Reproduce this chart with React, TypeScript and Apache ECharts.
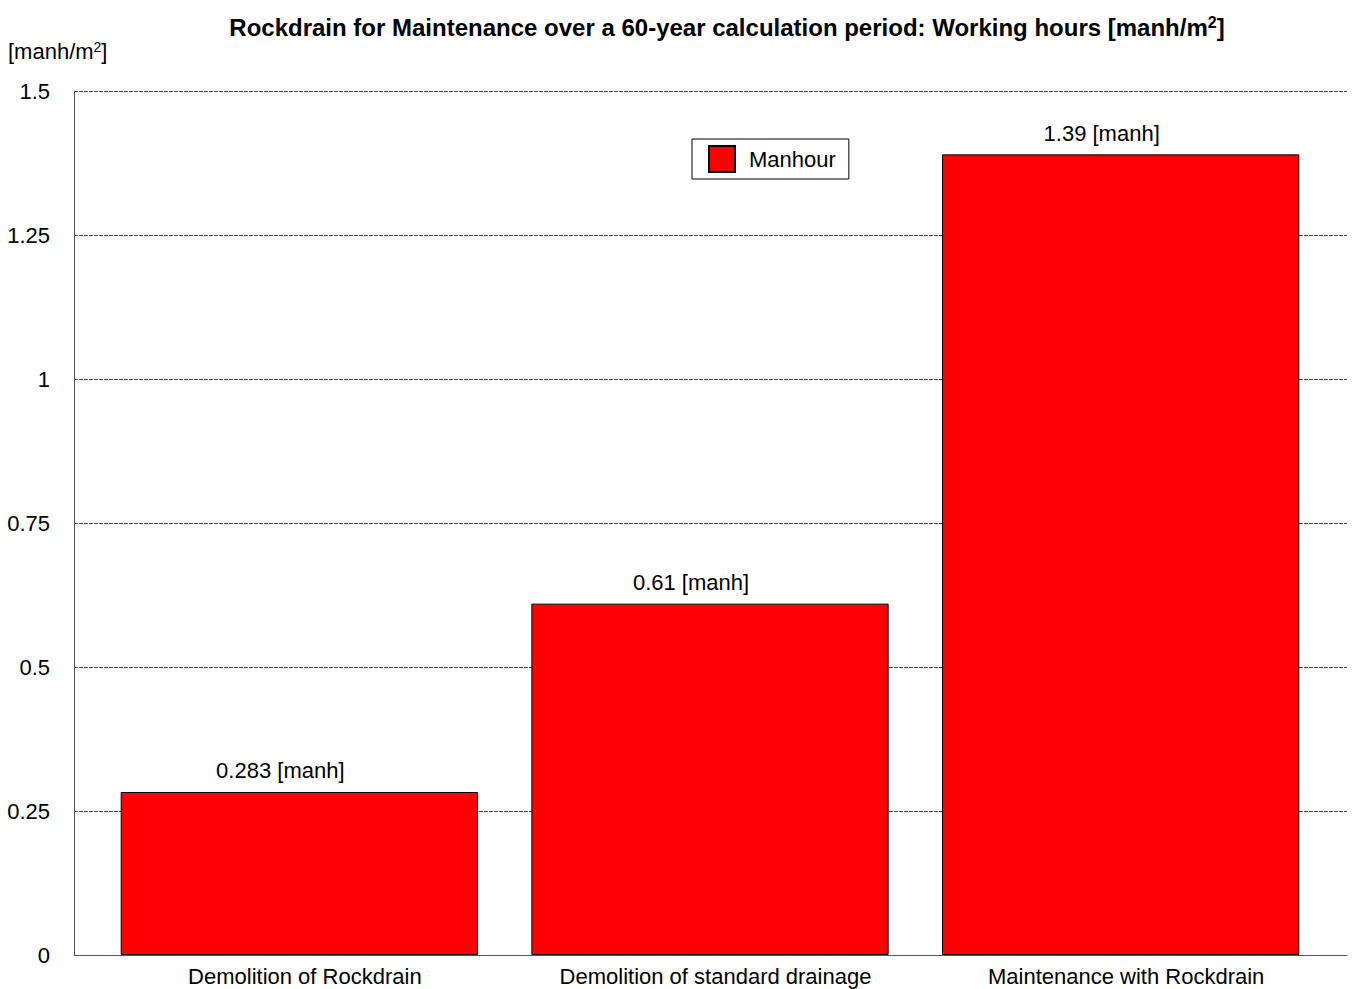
import React, { useEffect, useRef } from "react";
import * as echarts from "echarts";

const categories = [
  "Demolition of Rockdrain",
  "Demolition of standard drainage",
  "Maintenance with Rockdrain",
];
const manhourValues = [0.283, 0.61, 1.39];
const seriesName = "Manhour";
const yMin = 0;
const yMax = 1.5;
const yStep = 0.25;

export default function App() {
  const ref = useRef<HTMLDivElement>(null);
  useEffect(() => {
    document.body.style.margin = "0";
    const chart = echarts.init(ref.current!, null, { renderer: "svg" });
    const font = "Arial, 'Liberation Sans', sans-serif";
    chart.setOption({
      animation: false,
      backgroundColor: "#ffffff",
      textStyle: { fontFamily: font },
      title: {
        text: "{a|Rockdrain for Maintenance over a 60-year calculation period: Working hours [manh/m}{s|2}{a|]}",
        left: 722,
        top: 9,
        textAlign: "center",
        textStyle: {
          rich: {
            a: { fontSize: 24, fontWeight: "bold", color: "#000", fontFamily: font },
            s: { fontSize: 16, fontWeight: "bold", color: "#000", fontFamily: font, padding: [0, 0, 10, 0] },
          },
        },
      },
      graphic: [
        {
          type: "text",
          left: 8,
          top: 40,
          style: {
            text: "{a|[manh/m}{s|2}{a|]}",
            rich: {
              a: { fontSize: 22, fill: "#000", fontFamily: font },
              s: { fontSize: 14, fill: "#000", fontFamily: font, padding: [0, 0, 9, 0] },
            },
          },
        },
      ],
      legend: {
        data: [seriesName],
        left: 692,
        top: 139,
        orient: "horizontal",
        borderColor: "#000",
        borderWidth: 1,
        padding: [6, 13, 6, 16],
        itemWidth: 26,
        itemHeight: 26,
        icon: "rect",
        textStyle: { fontSize: 22, color: "#000", fontFamily: font, padding: [0, 0, 0, 9] },
      },
      grid: [
        { left: 74, right: 8, top: 91, bottom: 34, containLabel: false },
        { left: 94, right: 29, top: 91, bottom: 34, containLabel: false },
      ],
      xAxis: [
        {
          gridIndex: 0,
          type: "category",
          data: categories,
          axisLine: { lineStyle: { color: "#555", width: 1 } },
          axisTick: { show: false },
          axisLabel: { show: false },
        },
        {
          gridIndex: 1,
          type: "category",
          data: categories,
          axisLine: { show: false },
          axisTick: { show: false },
          axisLabel: { fontSize: 22, color: "#000", margin: 10, fontFamily: font, interval: 0, padding: [0, 0, 0, 11] },
        },
      ],
      yAxis: [
        {
          gridIndex: 0,
          type: "value",
          min: yMin,
          max: yMax,
          interval: yStep,
          axisLine: { show: true, lineStyle: { color: "#555", width: 1 } },
          axisTick: { show: false },
          axisLabel: { fontSize: 22, color: "#000", margin: 24, fontFamily: font },
          splitLine: { show: true, lineStyle: { color: "#444", type: [4, 1], width: 1 } },
        },
        {
          gridIndex: 1,
          type: "value",
          min: yMin,
          max: yMax,
          interval: yStep,
          show: false,
          splitLine: { show: false },
        },
      ],
      series: [
        {
          name: seriesName,
          type: "bar",
          xAxisIndex: 1,
          yAxisIndex: 1,
          data: manhourValues,
          barCategoryGap: "13%",
          itemStyle: { color: "#ff0000", borderColor: "#000", borderWidth: 1 },
          label: {
            show: true,
            position: "top",
            distance: 10,
            offset: [-19, 0],
            fontSize: 22,
            color: "#000",
            fontFamily: font,
            formatter: (p: any) => `${p.value} [manh]`,
          },
        },
      ],
    });
    return () => chart.dispose();
  }, []);
  return <div ref={ref} style={{ width: 1355, height: 989 }} />;
}
